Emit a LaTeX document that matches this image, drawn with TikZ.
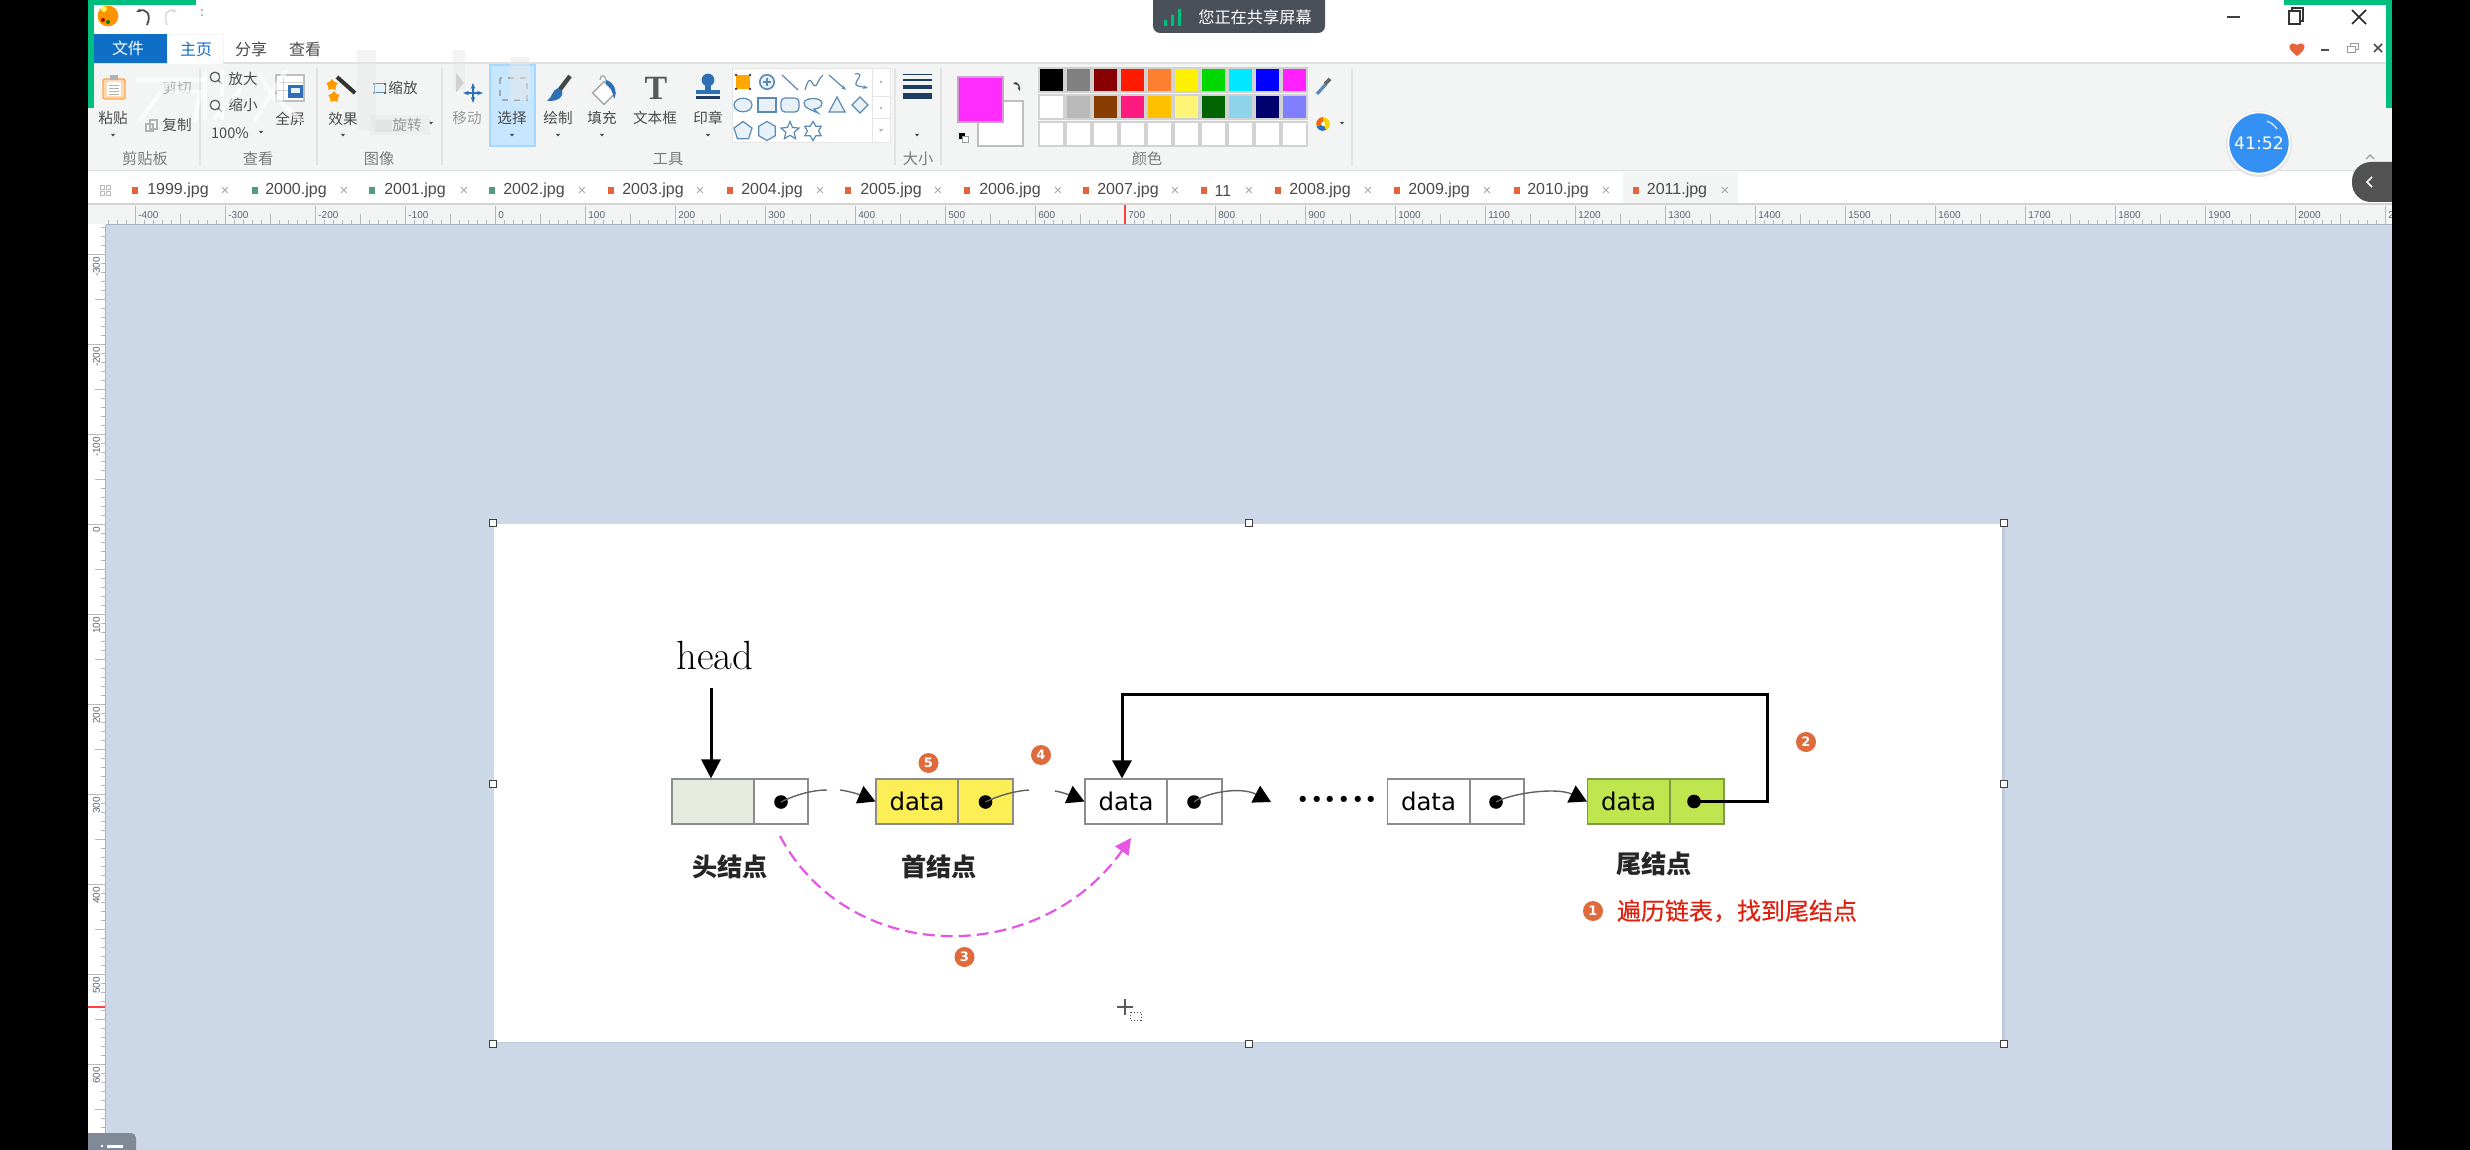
\documentclass[tikz,border=0pt]{standalone}
\usepackage{fontspec}
\usetikzlibrary{arrows.meta,shapes.geometric}
\newfontfamily\uif{Noto Sans CJK SC}
\newfontfamily\uifm[FakeBold=0.35]{Noto Sans CJK SC}
\newfontfamily\dvs{DejaVu Sans}
\newfontfamily\lib{Liberation Sans}
\newfontfamily\serifT{Liberation Serif}
\newcommand{\fsz}[1]{\fontsize{#1}{#1}\selectfont}
\definecolor{cnv}{HTML}{CCD8E8}
\definecolor{cnvedge}{HTML}{BECBDB}
\definecolor{rib}{HTML}{F3F5F5}
\definecolor{gbar}{HTML}{00BE7E}
\definecolor{uitext}{HTML}{4A4A4A}
\definecolor{grptext}{HTML}{7A7A7A}
\definecolor{rultext}{HTML}{5A6573}
\definecolor{rulline}{HTML}{A6B2C0}
\definecolor{wblue}{HTML}{0F6FC6}
\definecolor{tabor}{HTML}{E8633A}
\definecolor{tabgr}{HTML}{4F9C8A}
\definecolor{icb}{HTML}{5B8BB5}
\definecolor{icf}{HTML}{E8F0F8}
\definecolor{bdg}{HTML}{DF6A3C}
\definecolor{cellb}{HTML}{8C8C8C}
\definecolor{headf}{HTML}{E6EBDF}
\definecolor{yel}{HTML}{FBEF55}
\definecolor{grn}{HTML}{BFE64F}
\definecolor{grnb}{HTML}{7F9A4A}
\definecolor{mag}{HTML}{E655E6}
\definecolor{redt}{HTML}{E0200F}
\definecolor{fgmag}{HTML}{FF2BFF}
\definecolor{bannerc}{HTML}{4A505A}
\definecolor{timerc}{HTML}{3590F3}
\definecolor{btab}{HTML}{7F8A96}
\definecolor{icblue}{HTML}{2F6FB5}
\definecolor{sizec}{HTML}{1F3D63}
\tikzset{
 ui/.style={font=\uif\fsz{7.3},text=uitext,inner sep=0pt},
 grp/.style={font=\uif\fsz{7.6},text=grptext,inner sep=0pt},
 tabt/.style={font=\lib\fsz{8},text=uitext,inner sep=0pt},
 tabx/.style={font=\lib\fsz{7.5},text=gray!70,inner sep=0pt},
 rul/.style={font=\lib\fsz{5},text=rultext,inner sep=0pt},
 tick/.style={draw=gray!55,line width=0.5pt},
 hnd/.style={draw=black!75,fill=white,line width=0.9pt,minimum size=3.5pt,inner sep=0pt},
 cell/.style={rectangle,draw=cellb,line width=0.55pt,inner sep=0pt,minimum height=22.5pt},
 dtext/.style={font=\dvs\fsz{12.2},text=black},
 dotn/.style={circle,fill=black,inner sep=0pt,minimum size=6.8pt},
 link/.style={draw=black!62,line width=0.7pt},
 tipped/.style={link,-{Triangle[length=8.6pt,width=9.4pt,color=black,fill=black]}},
 bold/.style={draw=black,line width=1.5pt},
 boldtip/.style={bold,-{Triangle[length=9pt,width=9.5pt]}},
 badge/.style={circle,fill=bdg,text=white,inner sep=0pt,minimum size=10pt,font=\dvs\bfseries\fsz{6.5}},
 lbl/.style={font=\uif\bfseries\fsz{12.6},text=black!85,inner sep=0pt},
 pal/.style={draw=gray!35,line width=0.6pt},
 ics/.style={draw=icb,fill=icf,line width=0.6pt},
 icl/.style={draw=icb,line width=0.6pt},
 ghost/.style={draw=white,line width=2.2pt,opacity=.6,line cap=round},
 ghostg/.style={fill=gray!18,opacity=.5},
}
\begin{document}
\begin{tikzpicture}[x=0.5pt,y=-0.5pt]
\useasboundingbox (0,0) rectangle (2470,1150);
% window layers
\fill[white] (0,0) rectangle (2470,1150);
\fill[cnv] (106,225) rectangle (2392,1150);
\fill[rib] (88,63) rectangle (2392,170);
\draw[gray!25,line width=0.6pt] (88,63) -- (2392,63);
\draw[gray!25,line width=0.8pt] (88,170.5) -- (2392,170.5);
\fill[rib] (88,204) rectangle (2392,224);
\draw[gray!35,line width=0.6pt] (88,204) -- (2392,204);
\draw[rulline,line width=0.8pt] (106,224.5) -- (2392,224.5);
\draw[rulline,line width=0.8pt] (105.5,225) -- (105.5,1150);
% ruler horizontal
\draw[tick] \foreach \v in {-430,-420,...,2100} { ({495.5+0.9*\v},220) -- ({495.5+0.9*\v},224) };
\draw[tick] \foreach \v in {-350,-250,...,2050} { ({495.5+0.9*\v},214) -- ({495.5+0.9*\v},224) };
\draw[tick] \foreach \v in {-400,-300,...,2100} { ({495.5+0.9*\v},206) -- ({495.5+0.9*\v},224) };
\foreach \v [count=\i] in {-400,-300,...,2100} \node[rul,anchor=west,name=hr\i] at ({498+0.9*\v},215.5) {\v};
\draw[red!75,line width=0.6pt] (1125,205) -- (1125,224);
% ruler vertical
\fill[white] (88,225) rectangle (105,1150);
\draw[tick] \foreach \v in {-330,-320,...,690} { (101,{524+0.9*\v}) -- (105,{524+0.9*\v}) };
\draw[tick] \foreach \v in {-250,-150,...,650} { (95,{524+0.9*\v}) -- (105,{524+0.9*\v}) };
\draw[tick] \foreach \v in {-300,-200,...,600} { (88,{524+0.9*\v}) -- (105,{524+0.9*\v}) };
\foreach \v [count=\i] in {-300,-200,...,600} \node[rul,rotate=90,anchor=east,name=vr\i] at (96.5,{526.5+0.9*\v}) {\v};
\draw[red!75,line width=0.6pt] (88,1007) -- (105,1007);
% image sheet
\fill[cnvedge] (494,524) rectangle (2005,1043);
\fill[white] (494,524) rectangle (2002,1042);
\foreach \x/\y [count=\i] in {493/523,1249/523,2004/523,493/784,2004/784,493/1044,1249/1044,2004/1044}
  \node[hnd,name=hd\i] at (\x,\y) {};
% cursor
\draw[gray!70!black,line width=0.6pt] (1117,1007) -- (1133,1007) (1125,999) -- (1125,1015);
\draw[black!70,line width=0.5pt,densely dotted] (1130,1012) rectangle (1141,1020);

% ===== list diagram =====
\node[font=\fsz{20.4}\addfontfeatures{FakeBold=0.25},text=black,inner sep=0pt] (head) at (715,656) {head};
\node[cell,fill=headf,minimum width=41pt] (h1d) at (713,801.5) {};
\node[cell,fill=white,minimum width=27pt] (h1p) at (781,801.5) {};
\node[cell,fill=yel,minimum width=41pt,dtext] (n2d) at (917,801.5) {data};
\node[cell,fill=yel,minimum width=27.5pt] (n2p) at (985.5,801.5) {};
\node[cell,fill=white,minimum width=41pt,dtext] (n3d) at (1126,801.5) {data};
\node[cell,fill=white,minimum width=27.5pt] (n3p) at (1194.5,801.5) {};
\node[cell,fill=white,minimum width=41pt,dtext] (n4d) at (1428.5,801.5) {data};
\node[cell,fill=white,minimum width=27pt] (n4p) at (1497,801.5) {};
\node[cell,draw=grnb,fill=grn,minimum width=41pt,dtext] (n5d) at (1628.5,801.5) {data};
\node[cell,draw=grnb,fill=grn,minimum width=27pt] (n5p) at (1697,801.5) {};
\node[dotn] (d1) at (781,802) {};
\node[dotn] (d2) at (985.5,802) {};
\node[dotn] (d3) at (1194,802) {};
\node[dotn] (d4) at (1496,802) {};
\node[dotn] (d5) at (1694,801.5) {};
\node[font=\bfseries\fsz{21.6},text=black,inner sep=0pt,anchor=base] (dots) at (1337.5,802.5) {......};
% head pointer
\coordinate (hs) at (711,688);
\draw[draw=black,line width=1.5pt,-{Triangle[length=9.5pt,width=9.5pt]}] (hs) -- (hs |- h1d.north);
% thin links with gaps
\coordinate (g1a) at (827,790); \coordinate (g1b) at (840,790);
\coordinate (g2a) at (1029,790); \coordinate (g2b) at (1055,791);
\coordinate (t3) at (1271,802);
\draw[link] (d1.center) .. controls (795,795) and (812,790) .. (g1a);
\draw[tipped] (g1b) .. controls (848,791) and (858,794) .. (n2d.west);
\draw[link] (d2.center) .. controls (1000,795) and (1015,791) .. (g2a);
\draw[tipped] (g2b) .. controls (1062,792) and (1072,796) .. (n3d.west);
\draw[tipped] (d3.center) .. controls (1205,793) and (1240,786) .. (t3);
\draw[tipped] (d4.center) .. controls (1512,793) and (1557,787) .. (n5d.west);
% tail link
\coordinate (r1) at (1767,801.5); \coordinate (r2) at (1767,694); \coordinate (r3) at (1122,694);
\draw[boldtip] (d5.center) -- (r1) -- (r2) -- (r3) -- (r3 |- n3d.north);
% magenta
\coordinate (m1) at (780,836); \coordinate (m2) at (1131,838);
\draw[draw=mag,line width=1.1pt,dash pattern=on 6pt off 3pt,-{Triangle[length=8pt,width=8pt]}] (m1) .. controls (850,967) and (1040,967) .. (m2);
% labels
\node[lbl] (lh) at (730,867) {头结点};
\node[lbl] (lf) at (939,867) {首结点};
\node[lbl] (lt) at (1654,864) {尾结点};
\node[font=\uifm\fsz{12},text=redt,inner sep=0pt] (note) at (1737,911) {遍历链表，找到尾结点};
\node[badge] (b1) at (1593,911) {1};
\node[badge] (b2) at (1806,742) {2};
\node[badge] (b3) at (964.5,957) {3};
\node[badge] (b4) at (1041,755) {4};
\node[badge] (b5) at (928.5,763) {5};

% ===== title bar =====
\fill[wblue] (93,34) rectangle (167,63);
\node[font=\uif\fsz{8},text=white,inner sep=0pt] (mf) at (128,48) {文件};
\fill[rib] (167,34) -- (224,34) -- (224,63) -- (167,63) -- cycle;
\fill[white] (168,35) rectangle (223,64);
\node[font=\uif\fsz{8},text=wblue,inner sep=0pt] (mh) at (196,49) {主页};
\node[font=\uif\fsz{8},text=uitext,inner sep=0pt] (ms) at (251,49) {分享};
\node[font=\uif\fsz{8},text=uitext,inner sep=0pt] (mv) at (305,49) {查看};
% app icon, quick access
\fill[orange!85!yellow] (108,16) circle[radius=5.2pt];
\fill[yellow!70] (104,9) circle[radius=1.5pt];
\fill[red!70!black] (103,20) circle[radius=1pt];
\fill[green!50!black] (108,22) circle[radius=1pt];
\draw[black!70,line width=0.9pt,-{Stealth[length=2.5pt]}] (147,25) .. controls (152,14) and (146,8) .. (136,12);
\draw[gray!30,line width=0.8pt,-{Stealth[length=2.5pt]}] (167,25) .. controls (163,14) and (168,8) .. (177,12);
\fill[gray!70] (202,10) circle[radius=0.6pt] (202,15) circle[radius=0.6pt];
% banner
\fill[bannerc,rounded corners=3.5pt] (1153,-12) rectangle (1325,33);
\fill[gbar] (1164,20) rectangle (1167,26) (1171,15) rectangle (1174,26) (1178,9) rectangle (1181,26);
\node[font=\uif\fsz{8.1},text=white,inner sep=0pt] (bn) at (1255,17) {您正在共享屏幕};
% window controls
\draw[black!75,line width=0.7pt] (2227,17) -- (2240,17);
\draw[black!80,line width=0.8pt] (2289,11) rectangle (2300,24);
\draw[black!80,line width=0.7pt] (2292,11) -- (2292,8) -- (2303,8) -- (2303,21) -- (2300,21);
\draw[black!85,line width=0.8pt] (2352,10) -- (2366,24) (2366,10) -- (2352,24);
\fill[tabor] (2297,56) .. controls (2285,48) and (2289,40) .. (2297,45) .. controls (2305,40) and (2309,48) .. (2297,56) -- cycle;
\draw[black!70,line width=0.8pt] (2321,50) -- (2329,50);
\draw[gray!80,line width=0.5pt] (2347,47) rectangle (2355,53) (2350,47) -- (2350,44) -- (2358,44) -- (2358,50) -- (2355,50);
\draw[black!70,line width=0.8pt] (2374,44) -- (2382,52) (2382,44) -- (2374,52);
% ===== ribbon separators =====
\foreach \x in {200,317,442,895,941,1352} \draw[gray!22,line width=0.6pt] (\x,68) -- (\x,165);
% selected tool
\fill[blue!45!cyan!22] (490,65) rectangle (535,146);
\draw[blue!45!cyan!35,line width=0.6pt] (490,65) rectangle (535,146);
% clipboard
\draw[orange!70,fill=orange!30,line width=0.7pt,rounded corners=1pt] (103,79) rectangle (125,99);
\fill[white] (107,82) rectangle (121,96);
\draw[gray!60,line width=0.4pt] (109,85) -- (119,85) (109,88) -- (119,88) (109,91) -- (119,91) (109,94) -- (119,94);
\fill[gray!60] (110,75) rectangle (118,80);
% ribbon labels
\node[ui] (r01) at (113,118) {粘贴};
\node[ui,text=gray!70] (r02) at (177,88) {剪切};
\node[ui] (r03) at (177,125) {复制};
\node[ui] (r04) at (243,79) {放大};
\node[ui] (r05) at (243,105) {缩小};
\node[ui] (r06) at (230,133) {100\%};
\node[ui] (r07) at (290,119) {全屏};
\node[ui] (r08) at (343,119) {效果};
\node[ui] (r09) at (403,88) {缩放};
\node[ui] (r10) at (407,125) {旋转};
\node[ui,text=gray!80] (r11) at (467,118) {移动};
\node[ui] (r12) at (512,118) {选择};
\node[ui] (r13) at (558,118) {绘制};
\node[ui] (r14) at (602,118) {填充};
\node[ui] (r15) at (655,118) {文本框};
\node[ui] (r16) at (708,118) {印章};
\node[grp] (g1) at (145,159) {剪贴板};
\node[grp] (g2) at (258,159) {查看};
\node[grp] (g3) at (379,159) {图像};
\node[grp] (g4) at (668,159) {工具};
\node[grp] (g5) at (918,159) {大小};
\node[grp] (g6) at (1147,159) {颜色};
% dropdown marks
\foreach \x/\y in {113/135,261/132,343/135,431/123,512/135,558/135,602/135,708/135,917/135,1342/123}
  \fill[black!70] (\x-2.2,\y-1.2) -- (\x+2.2,\y-1.2) -- (\x,\y+1.5) -- cycle;
% small icons
\draw[gray!70!black,line width=0.6pt] (215,77) circle[radius=2.4pt] (218,80) -- (222,84);
\draw[gray!70!black,line width=0.6pt] (215,105) circle[radius=2.4pt] (218,108) -- (222,112);
\draw[gray!60,fill=white,line width=0.6pt] (150,120) rectangle (157,129) (146,124) rectangle (153,131);
% fullscreen icon
\draw[gray!50,fill=white,line width=0.6pt] (276,75) rectangle (304,101);
\draw[gray!35,line width=0.4pt] (276,82) -- (304,82) (283,75) -- (283,101) (276,90) -- (288,90);
\fill[icblue] (288,85) rectangle (303,98);
\fill[icf] (291,88) rectangle (300,93);
% wand
\draw[gray!40!black,line width=2pt] (337,77) -- (355,93);
\node[star,star points=5,fill=orange!80!yellow,inner sep=0pt,minimum size=6pt,name=w1] at (332,85) {};
\node[star,star points=5,fill=orange!80!yellow,inner sep=0pt,minimum size=6pt,name=w2] at (334,97) {};
% scale icon
\draw[icb,line width=0.5pt,fill=icf] (374,84) rectangle (385,93);
\fill[black!60] (373,83) rectangle (375,85) (384,83) rectangle (386,85) (373,92) rectangle (375,94) (384,92) rectangle (386,94);
% rotate ghost and move
\fill[gray!25] (375,120) rectangle (392,132);
\fill[gray!55] (456,73) -- (456,92) -- (464,83) -- cycle;
\draw[icblue,line width=1.2pt,<->,>={Stealth[length=3pt]}] (463,93) -- (483,93);
\draw[icblue,line width=1.2pt,<->,>={Stealth[length=3pt]}] (473,83) -- (473,103);
% select icon
\draw[gray!70,line width=0.6pt,dashed] (500,78) rectangle (527,100);
% brush
\draw[gray!55!black,line width=2.2pt] (558,92) -- (570,76);
\fill[icblue] (547,101) .. controls (552,98) and (552,90) .. (558,88) .. controls (563,90) and (564,94) .. (560,98) .. controls (556,101) and (552,101) .. cycle;
% bucket
\draw[gray!70,fill=white,line width=0.7pt,rotate around={45:(604,93)}] (596,85) rectangle (612,101);
\draw[gray!70,line width=0.6pt] (600,80) .. controls (600,74) and (606,74) .. (606,82);
\fill[icblue] (606,80) .. controls (614,82) and (618,92) .. (614,99) .. controls (613,92) and (610,86) .. (606,84) -- cycle;
% T
\node[font=\serifT\bfseries\fsz{17},text=gray!70!black,inner sep=0pt] (bigT) at (656,88) {T};
% stamp
\fill[icblue] (708,80) circle[radius=3.2pt];
\fill[icblue] (705,80) rectangle (711,90);
\fill[icblue] (696,90) rectangle (720,94);
\fill[sizec] (696,96) rectangle (720,99);
% shape panel
\fill[white] (732,69) rectangle (890,143);
\draw[gray!20,line width=0.5pt] (732,69) rectangle (890,143) (872,69) -- (872,143) (872,97) -- (890,97) (872,119) -- (890,119);
\foreach \y in {82,108} \fill[gray!60] (881,\y) circle[radius=0.7pt];
\fill[gray!60] (879,129) -- (883,129) -- (881,132) -- cycle;
\fill[orange!70!yellow] (736,75) rectangle (750,89);
\fill[black!70] (735,74) rectangle (737,76) (749,74) rectangle (751,76) (735,88) rectangle (737,90) (749,88) rectangle (751,90);
\draw[icl,line width=0.8pt,fill=icf] (767,82) circle[radius=3.6pt];
\draw[icl,line width=0.8pt] (763,82) -- (771,82) (767,78) -- (767,86);
\draw[icl] (782,75) -- (798,90);
\draw[icl] (805,90) .. controls (812,66) and (812,96) .. (818,82) .. controls (820,78) and (822,76) .. (823,75);
\draw[icl,-{Stealth[length=2.5pt]}] (829,75) -- (846,90);
\draw[icl,-{Stealth[length=2.5pt]}] (855,74) .. controls (868,72) and (850,84) .. (858,86) -- (868,88);
\draw[ics] (743,105) ellipse[x radius=4.5pt,y radius=3.4pt];
\draw[ics] (758,98) rectangle (776,112);
\draw[ics,rounded corners=2pt] (781,98) rectangle (799,112);
\draw[ics] (804,103) .. controls (804,97) and (822,97) .. (822,103) .. controls (822,108) and (816,109) .. (814,109) -- (818,113) -- (809,109) .. controls (806,108) and (804,106) .. cycle;
\draw[ics] (837,97) -- (845,112) -- (829,112) -- cycle;
\draw[ics] (860,97) -- (868,105) -- (860,113) -- (852,105) -- cycle;
\node[regular polygon,regular polygon sides=5,ics,inner sep=0pt,minimum size=9.5pt,name=sp1] at (743,131) {};
\node[regular polygon,regular polygon sides=6,ics,rotate=30,inner sep=0pt,minimum size=9.5pt,name=sp2] at (767,131) {};
\node[star,star points=5,star point ratio=2.2,icl,fill=white,inner sep=0pt,minimum size=9.5pt,name=sp3] at (790,131) {};
\node[star,star points=6,star point ratio=1.7,icl,fill=white,inner sep=0pt,minimum size=9.5pt,name=sp4] at (813,131) {};
% size lines
\fill[sizec] (903,74.5) rectangle (932,75.5);
\fill[sizec] (903,79) rectangle (932,81);
\fill[sizec] (903,85) rectangle (932,89);
\fill[sizec] (903,93) rectangle (932,99);
% current colours
\draw[gray!50,fill=white,line width=0.7pt] (978,101) rectangle (1023,146);
\draw[fgmag!40!gray!60,fill=fgmag,line width=0.9pt] (958,77) rectangle (1003,122);
\fill[black] (959,133) rectangle (965,139);
\draw[gray!80,fill=white,line width=0.4pt] (962,136) rectangle (968,142);
\draw[black!75,line width=0.7pt,<->,>={Stealth[length=2pt]}] (1013,83) .. controls (1020,84) and (1019,88) .. (1020,91);
% palette
\foreach \c [count=\i from 0] in {000000,808080,880000,FF1A00,FF7F30,FFF200,00D800,00E8FF,0000FF,FF22FF} {
  \definecolor{pc}{HTML}{\c}
  \draw[pal,fill=pc] ({1039+27*\i},68) rectangle ++(25,24);
}
\foreach \c [count=\i from 0] in {FFFFFF,B9B9B9,883C00,FF1A80,FFC000,FFF677,006400,8FD3EA,00006E,8080FF} {
  \definecolor{pc}{HTML}{\c}
  \draw[pal,fill=pc] ({1039+27*\i},95) rectangle ++(25,24);
}
\foreach \i in {0,...,9} \draw[pal,fill=white] ({1039+27*\i},122) rectangle ++(25,24);
% dropper, wheel
\draw[icb,line width=1.6pt] (1317,94) -- (1326,84);
\draw[black!60,line width=1.8pt] (1325,84) -- (1330,79);
\fill[orange!80!red] (1323,124) -- ++(0,-7) arc[start angle=90,end angle=200,radius=3.4pt] -- cycle;
\fill[icblue] (1323,124) -- ++(-6.5,2.5) arc[start angle=200,end angle=300,radius=3.4pt] -- cycle;
\fill[yellow!70!orange] (1323,124) -- ++(3.5,6) arc[start angle=300,end angle=450,radius=3.4pt] -- cycle;
\fill[white] (1323,124) circle[radius=1pt];
% ===== tabs =====
\fill[rib] (1623,172) rectangle (1738,203);
\draw[gray!55,line width=0.4pt] (100,185) rectangle (104,189) (106,185) rectangle (110,189) (100,191) rectangle (104,195) (106,191) rectangle (110,195);
\foreach \sx/\cc/\tx/\lbltxt/\xx [count=\i] in {
 135/tabor/178/1999.jpg/225, 255/tabgr/296/2000.jpg/344, 372/tabgr/415/2001.jpg/464,
 492/tabgr/534/2002.jpg/582, 611/tabor/653/2003.jpg/700, 730/tabor/772/2004.jpg/820,
 848/tabor/891/2005.jpg/938, 967/tabor/1010/2006.jpg/1058, 1086/tabor/1128/2007.jpg/1175,
 1204/tabor/1223/11/1249, 1278/tabor/1320/2008.jpg/1368, 1397/tabor/1439/2009.jpg/1487,
 1517/tabor/1558/2010.jpg/1606, 1636/tabor/1677/2011.jpg/1725} {
  \fill[\cc] (\sx-3,187) rectangle (\sx+3,194);
  \node[tabt,name=tb\i] at (\tx,190.5) {\lbltxt};
  \node[tabx,name=tx\i] at (\xx,191) {×};
}
% timer
\fill[gray!20] (2259,144) circle[radius=16.5pt];
\draw[white,fill=timerc,line width=0.9pt] (2259,143) circle[radius=15.3pt];
\draw[white,line width=0.5pt] (2267,121) .. controls (2272,123) and (2275,126) .. (2277,129);
\node[font=\dvs\fsz{8.6},text=white,inner sep=0pt] (timer) at (2259,143) {41:52};
% dark collapse tab
\draw[gray!70,line width=0.7pt] (2366,159) -- (2370,155) -- (2374,159);
\fill[black!68,rounded corners=9.5pt] (2352,162) rectangle (2420,202);
\draw[white,line width=0.8pt] (2372,177) -- (2367,182) -- (2372,187);
% bottom-left tab
\fill[btab,rounded corners=2.5pt] (70,1133) rectangle (136,1170);
\fill[white] (107,1145) rectangle (123,1147.5);
\fill[white] (102,1146) circle[radius=0.7pt];
% watermark residue
\draw[ghost] (138,80) -- (205,80) (170,80) -- (140,120) (172,92) -- (200,92) -- (195,120);
\draw[ghost] (205,75) -- (205,118) (222,72) -- (222,118) (240,90) -- (215,118);
\draw[ghost] (260,75) -- (275,100) (285,72) -- (255,120) (270,92) -- (300,120);
\fill[ghostg] (357,50) rectangle (376,130);
\fill[ghostg] (453,50) rectangle (465,90);
\fill[ghostg] (510,57) rectangle (530,100);
\fill[ghostg] (370,115) rectangle (430,135);
% side panels and green frame
\fill[black] (0,0) rectangle (88,1150);
\fill[black] (2392,0) rectangle (2470,1150);
\fill[gbar] (88,0) rectangle (196,5);
\fill[gbar] (88,0) rectangle (94,108);
\fill[gbar] (2284,0) rectangle (2392,5);
\fill[gbar] (2386,0) rectangle (2392,108);
\end{tikzpicture}
\end{document}
